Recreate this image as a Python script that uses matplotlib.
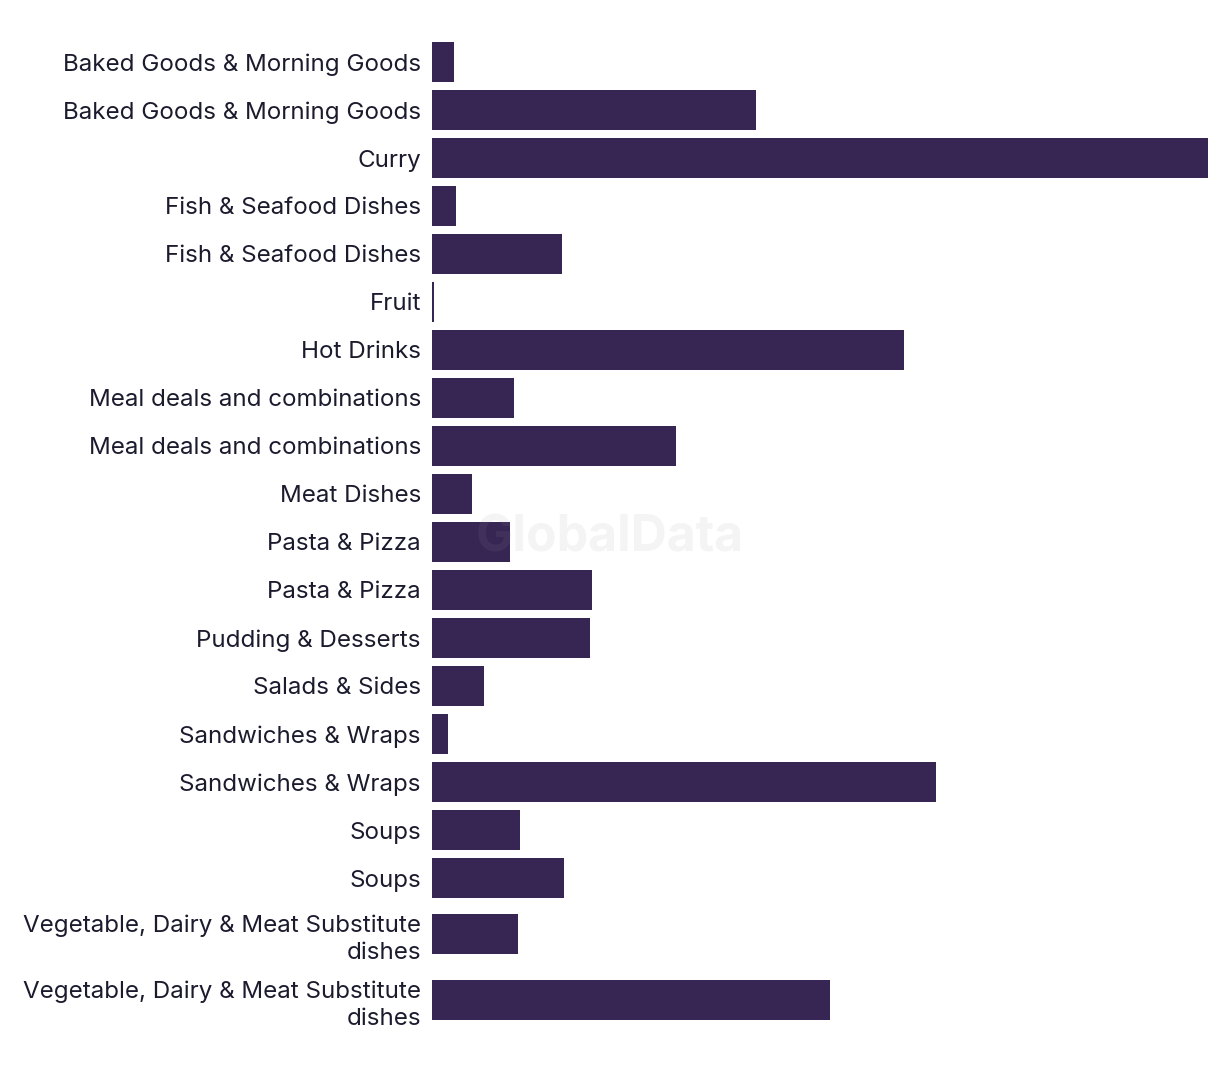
import matplotlib
matplotlib.use("Agg")
import matplotlib.pyplot as plt

categories = [
    "Baked Goods & Morning Goods",
    "Baked Goods & Morning Goods",
    "Curry",
    "Fish & Seafood Dishes",
    "Fish & Seafood Dishes",
    "Fruit",
    "Hot Drinks",
    "Meal deals and combinations",
    "Meal deals and combinations",
    "Meat Dishes",
    "Pasta & Pizza",
    "Pasta & Pizza",
    "Pudding & Desserts",
    "Salads & Sides",
    "Sandwiches & Wraps",
    "Sandwiches & Wraps",
    "Soups",
    "Soups",
    "Vegetable, Dairy & Meat Substitute\ndishes",
    "Vegetable, Dairy & Meat Substitute\ndishes",
]
values = [22, 324, 776, 24, 130, 2, 472, 82, 244, 40,
          78, 160, 158, 52, 16, 504, 88, 132, 86, 398]

BAR_COLOR = "#372554"
TEXT_COLOR = "#1c1b2e"

plt.rcParams["font.family"] = ["Inter", "DejaVu Sans"]

W, H = 1220, 1072
fig = plt.figure(figsize=(W / 100, H / 100), dpi=100)
x0, x1 = 432, 1208
ax = fig.add_axes([x0 / W, 0, (x1 - x0) / W, 1])

# row layout: uniform rows, taller rows for two-line labels
centers = []
y = 62.0
prev_lines = None
for lab in categories:
    lines = lab.count("\n") + 1
    if prev_lines is not None:
        y += 48 + 8 * (lines - 1) + 10 * (prev_lines - 1)
    centers.append(y)
    prev_lines = lines

ax.barh(centers, values, height=40, color=BAR_COLOR, left=0)
ax.set_xlim(0, max(values))
ax.set_ylim(H, 0)
ax.set_yticks(centers)
ax.set_yticklabels(categories, fontsize=17.4, color=TEXT_COLOR,
                   linespacing=1.3, multialignment="right")
ax.tick_params(axis="y", length=0, pad=8)
ax.set_xticks([])
for s in ax.spines.values():
    s.set_visible(False)
ax.patch.set_alpha(0)

fig.text(610 / W, 1 - 538 / H, "GlobalData", fontsize=36, fontweight="bold",
         color="#9a9aa0", alpha=0.1, ha="center", va="center", zorder=10)

fig.savefig("out.png", dpi=100, facecolor="white")
